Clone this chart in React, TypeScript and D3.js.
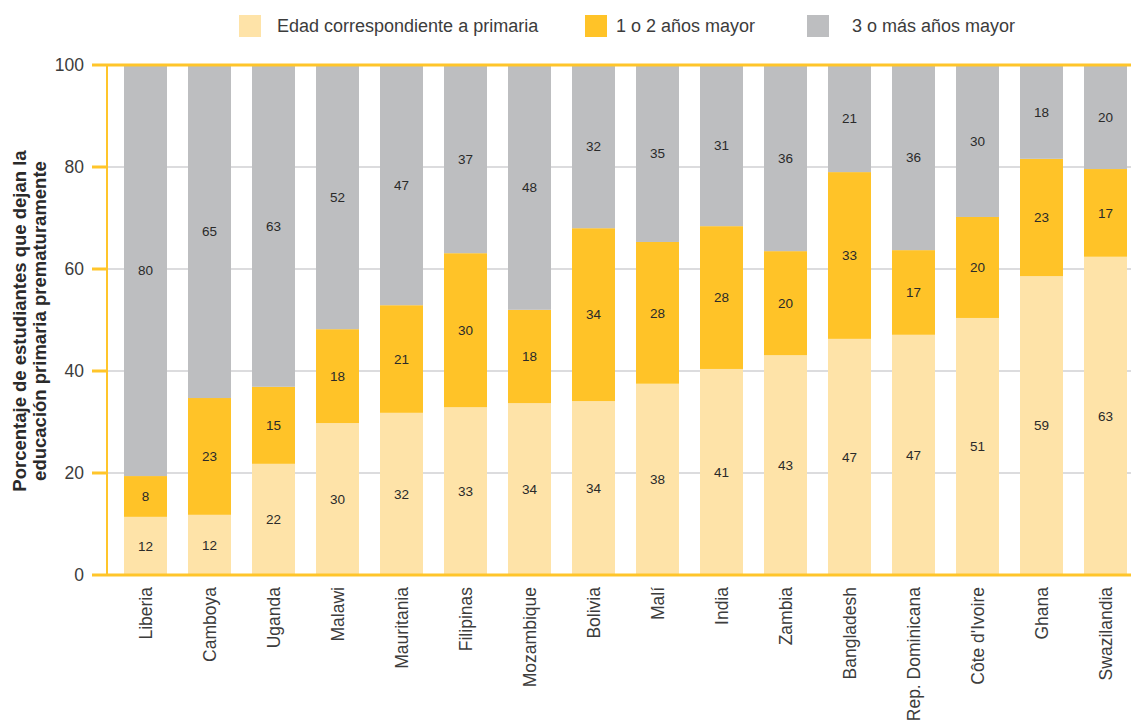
import { useEffect, useRef } from "react";
import * as d3 from "d3";

const COUNTRIES = [
  "Liberia", "Camboya", "Uganda", "Malawi", "Mauritania", "Filipinas", "Mozambique", "Bolivia",
  "Malí", "India", "Zambia", "Bangladesh", "Rep. Dominicana", "Côte d'Ivoire", "Ghana", "Swazilandia"
];

// alturas (%)
const PRIMARY = [11.4, 11.8, 21.8, 29.8, 31.8, 32.9, 33.7, 34.1, 37.5, 40.4, 43.1, 46.3, 47.1, 50.4, 58.6, 62.4];
const OLDER_1_2 = [8.0, 22.9, 15.1, 18.4, 21.1, 30.2, 18.3, 33.9, 27.8, 28.0, 20.4, 32.7, 16.6, 19.8, 23.0, 17.2];
const OLDER_3 = [80.6, 65.3, 63.1, 51.8, 47.1, 36.9, 48.0, 32.0, 34.7, 31.6, 36.5, 21.0, 36.3, 29.8, 18.4, 20.4];

// etiquetas impresas en las barras
const PRIMARY_LABELS = [12, 12, 22, 30, 32, 33, 34, 34, 38, 41, 43, 47, 47, 51, 59, 63];
const OLDER_1_2_LABELS = [8, 23, 15, 18, 21, 30, 18, 34, 28, 28, 20, 33, 17, 20, 23, 17];
const OLDER_3_LABELS = [80, 65, 63, 52, 47, 37, 48, 32, 35, 31, 36, 21, 36, 30, 18, 20];

const SERIES = ["Edad correspondiente a primaria", "1 o 2 años mayor", "3 o más años mayor"];
const COLORS = ["#FEE3A8", "#FFC328", "#BDBEC0"];
const Y_TICKS = [0, 20, 40, 60, 80, 100];

const W = 1131;
const H = 721;
const AXIS = "#FFC52A";
const TEXT = "#3c3c3c";
const FONT = "'Liberation Sans', Arial, sans-serif";

export default function App() {
  const svgRef = useRef<SVGSVGElement>(null);

  useEffect(() => {
    document.body.style.margin = "0";
    const svg = d3.select(svgRef.current!);
    svg.selectAll("*").remove();

    const x = d3.scaleBand<string>()
      .domain(COUNTRIES)
      .range([113.5, 1137.5])
      .paddingInner(21 / 64)
      .paddingOuter(21 / 128);
    const y = d3.scaleLinear().domain([0, 100]).range([575, 65]);

    const rows = COUNTRIES.map((c, i) => ({
      country: c,
      s0: PRIMARY[i], s1: OLDER_1_2[i], s2: OLDER_3[i],
      l0: PRIMARY_LABELS[i], l1: OLDER_1_2_LABELS[i], l2: OLDER_3_LABELS[i]
    }));
    const stacked = d3.stack<typeof rows[number]>().keys(["s0", "s1", "s2"])(rows);

    // gridlines
    svg.append("g").selectAll("line")
      .data(Y_TICKS.filter((t) => t > 0 && t < 100))
      .join("line")
      .attr("x1", 107).attr("x2", W)
      .attr("y1", (d) => y(d)).attr("y2", (d) => y(d))
      .attr("stroke", "#dcdcde").attr("stroke-width", 2);

    // bars
    const layers = svg.append("g").selectAll("g")
      .data(stacked)
      .join("g")
      .attr("fill", (_d, i) => COLORS[i]);
    layers.selectAll("rect")
      .data((d) => d)
      .join("rect")
      .attr("x", (d) => x(d.data.country)!)
      .attr("width", x.bandwidth())
      .attr("y", (d) => y(d[1]))
      .attr("height", (d) => y(d[0]) - y(d[1]));

    // labels inside bars
    stacked.forEach((layer, li) => {
      svg.append("g").selectAll("text")
        .data(layer)
        .join("text")
        .attr("x", (d) => x(d.data.country)! + x.bandwidth() / 2)
        .attr("y", (d) => (y(d[0]) + y(d[1])) / 2)
        .attr("dy", "0.35em")
        .attr("text-anchor", "middle")
        .attr("font-family", FONT)
        .attr("font-size", 13.5)
        .attr("fill", "#2a2a2a")
        .text((d) => (d.data as any)["l" + li]);
    });

    // axes
    const ax = svg.append("g");
    ax.append("line").attr("x1", 107).attr("x2", 107).attr("y1", y(100)).attr("y2", y(0))
      .attr("stroke", AXIS).attr("stroke-width", 2);
    ax.selectAll("line.tick")
      .data(Y_TICKS)
      .join("line")
      .attr("class", "tick")
      .attr("x1", 92)
      .attr("x2", (d) => (d === 0 || d === 100 ? W : 107))
      .attr("y1", (d) => y(d)).attr("y2", (d) => y(d))
      .attr("stroke", AXIS).attr("stroke-width", 3);
    ax.selectAll("text.ytick")
      .data(Y_TICKS)
      .join("text")
      .attr("class", "ytick")
      .attr("x", 84).attr("y", (d) => y(d)).attr("dy", "0.35em")
      .attr("text-anchor", "end")
      .attr("font-family", FONT).attr("font-size", 17.5).attr("fill", TEXT)
      .text((d) => d);

    ax.selectAll("text.xtick")
      .data(COUNTRIES)
      .join("text")
      .attr("class", "xtick")
      .attr("transform", (d) => `translate(${x(d)! + x.bandwidth() / 2},587) rotate(-90)`)
      .attr("dy", "0.35em")
      .attr("text-anchor", "end")
      .attr("font-family", FONT).attr("font-size", 17.5).attr("fill", TEXT)
      .text((d) => d);

    // y title
    const title = svg.append("text")
      .attr("transform", "translate(0,321) rotate(-90)")
      .attr("text-anchor", "middle")
      .attr("font-family", FONT).attr("font-size", 18.5).attr("font-weight", "bold")
      .attr("fill", "#2a2a2a");
    title.append("tspan").attr("x", 0).attr("y", 26).text("Porcentaje de estudiantes que dejan la");
    title.append("tspan").attr("x", 0).attr("y", 46).text("educación primaria prematuramente");

    // legend
    const legendX = [239, 585, 807];
    const legendTextX = [277, 616, 852];
    const lg = svg.append("g");
    SERIES.forEach((s, i) => {
      lg.append("rect").attr("x", legendX[i]).attr("y", 15).attr("width", 22).attr("height", 22).attr("fill", COLORS[i]);
      lg.append("text").attr("x", legendTextX[i]).attr("y", 26).attr("dy", "0.35em")
        .attr("font-family", FONT).attr("font-size", 18).attr("fill", TEXT)
        .text(s);
    });
  }, []);

  return <svg ref={svgRef} width={W} height={H} style={{ display: "block", background: "#fff" }} />;
}
